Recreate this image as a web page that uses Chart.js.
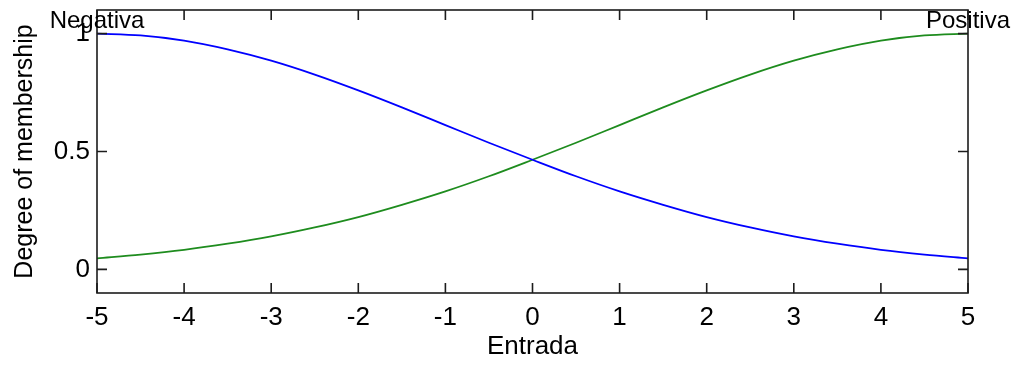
<!DOCTYPE html>
<html>
<head>
<meta charset="utf-8">
<script src="https://cdn.jsdelivr.net/npm/chart.js@4.4.1/dist/chart.umd.min.js"></script>
<style>
  html, body { margin: 0; padding: 0; background: #fff; }
  #wrap { width: 1017px; height: 365px; position: relative; }
</style>
</head>
<body>
<div id="wrap"><canvas id="mfChart"></canvas></div>
<script>
// input universe (Entrada) and the two membership functions
let entrada = [-5, -4.5, -4, -3.5, -3, -2.5, -2, -1.5, -1, -0.5, 0, 0.5, 1, 1.5, 2, 2.5, 3, 3.5, 4, 4.5, 5];
let negativa = [1.000, 0.992, 0.970, 0.933, 0.885, 0.826, 0.759, 0.687, 0.612, 0.537, 0.465,
                0.395, 0.331, 0.274, 0.222, 0.178, 0.140, 0.109, 0.083, 0.063, 0.047];
let positiva = [0.047, 0.063, 0.083, 0.109, 0.140, 0.178, 0.222, 0.274, 0.331, 0.395, 0.465,
                0.537, 0.612, 0.687, 0.759, 0.826, 0.885, 0.933, 0.970, 0.992, 1.000];
let yTicks = [0, 0.5, 1];
let mfNames = ["Negativa", "Positiva"];
let mfPeaks = [-5, 5];

let fontFamily = "'Liberation Sans', Arial, sans-serif";
let axisColor = "#1c1c1c";

function toPoints(ys) {
  return entrada.map(function (x, i) { return { x: x, y: ys[i] }; });
}

// box around the axes, inward ticks on all four sides, and mf names
let framePlugin = {
  id: "frame",
  afterDraw: function (chart) {
    let ctx = chart.ctx;
    let area = chart.chartArea;
    let xs = chart.scales.x;
    let ys = chart.scales.y;
    let tickLen = 10;

    ctx.save();
    ctx.strokeStyle = axisColor;
    ctx.lineWidth = 1.6;
    ctx.strokeRect(area.left, area.top, area.right - area.left, area.bottom - area.top);

    ctx.beginPath();
    xs.ticks.forEach(function (t) {
      let px = xs.getPixelForValue(t.value);
      ctx.moveTo(px, area.bottom);
      ctx.lineTo(px, area.bottom - tickLen);
      ctx.moveTo(px, area.top);
      ctx.lineTo(px, area.top + tickLen);
    });
    ys.ticks.forEach(function (t) {
      let py = ys.getPixelForValue(t.value);
      ctx.moveTo(area.left, py);
      ctx.lineTo(area.left + tickLen, py);
      ctx.moveTo(area.right, py);
      ctx.lineTo(area.right - tickLen, py);
    });
    ctx.stroke();

    ctx.fillStyle = "#000";
    ctx.font = "24px " + fontFamily;
    ctx.textAlign = "center";
    ctx.textBaseline = "middle";
    mfNames.forEach(function (name, i) {
      ctx.fillText(name, xs.getPixelForValue(mfPeaks[i]), ys.getPixelForValue(1.05));
    });
    ctx.restore();
  }
};

let ctx = document.getElementById("mfChart").getContext("2d");
let chart = new Chart(ctx, {
  type: "line",
  data: {
    datasets: [{
      label: mfNames[0],
      data: toPoints(negativa),
      borderColor: "#0000ff",
      borderWidth: 1.8,
      pointRadius: 0,
      cubicInterpolationMode: "monotone",
      fill: false
    }, {
      label: mfNames[1],
      data: toPoints(positiva),
      borderColor: "#1e8c1e",
      borderWidth: 1.8,
      pointRadius: 0,
      cubicInterpolationMode: "monotone",
      fill: false
    }]
  },
  options: {
    responsive: true,
    maintainAspectRatio: false,
    animation: false,
    devicePixelRatio: 1,
    layout: { padding: { top: 10, right: 49, left: 0, bottom: 0 } },
    plugins: {
      legend: { display: false },
      tooltip: { enabled: false }
    },
    scales: {
      x: {
        type: "linear",
        min: -5,
        max: 5,
        grid: { display: false, drawTicks: false, tickLength: 0 },
        border: { display: false },
        ticks: {
          stepSize: 1,
          padding: 9,
          maxRotation: 0,
          color: "#000",
          font: { family: fontFamily, size: 26 }
        },
        title: {
          display: true,
          text: "Entrada",
          color: "#000",
          font: { family: fontFamily, size: 26 },
          padding: { top: 0, bottom: 3 }
        },
        afterFit: function (scale) {
          scale.height = 72;
          scale.paddingLeft = 0;
          scale.paddingRight = 0;
        }
      },
      y: {
        type: "linear",
        min: -0.1,
        max: 1.1,
        grid: { display: false, drawTicks: false, tickLength: 0 },
        border: { display: false },
        afterBuildTicks: function (scale) {
          scale.ticks = yTicks.map(function (v) { return { value: v }; });
        },
        ticks: {
          padding: 7,
          color: "#000",
          font: { family: fontFamily, size: 26 },
          callback: function (v) { return String(v); }
        },
        title: {
          display: true,
          text: "Degree of membership",
          color: "#000",
          font: { family: fontFamily, size: 25 },
          padding: { top: 10, bottom: 0 }
        },
        afterFit: function (scale) {
          scale.width = 97;
          scale.paddingTop = 0;
          scale.paddingBottom = 0;
        }
      }
    }
  },
  plugins: [framePlugin]
});
</script>
</body>
</html>
